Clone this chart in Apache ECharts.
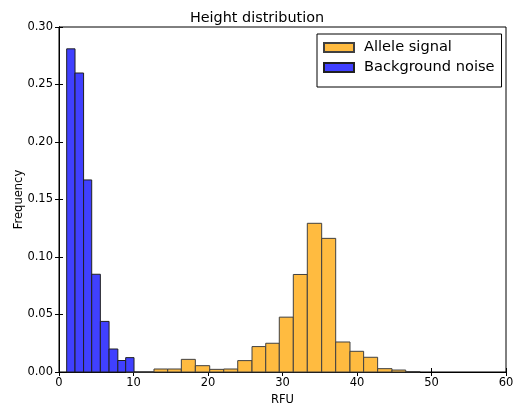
<!DOCTYPE html>
<html>
<head>
<meta charset="utf-8">
<script src="https://cdn.jsdelivr.net/npm/echarts@6/dist/echarts.min.js"></script>
<style>
html,body{margin:0;padding:0;background:#fff;}
#chart{width:514px;height:405px;}
</style>
</head>
<body>
<div id="chart"></div>
<script>
// Bin left edges and heights (histogram, normalized frequency)
var alleleEdges = [8.99, 10.87, 12.75, 14.59, 16.42, 18.30, 20.23, 22.11, 23.99, 25.91, 27.75, 29.57, 31.45, 33.33, 35.26, 37.14, 39.06, 40.89, 42.77, 44.70, 46.54, 48.46];
var alleleFreq = [0, 0, 0.0026, 0.0026, 0.0110, 0.0055, 0.0023, 0.0026, 0.0099, 0.0221, 0.0250, 0.0477, 0.0848, 0.1293, 0.1162, 0.0261, 0.0180, 0.0128, 0.0029, 0.0017, 0.0004];
var noiseEdges = [1.03, 2.15, 3.30, 4.39, 5.55, 6.72, 7.90, 8.95, 10.07];
var noiseFreq = [0.281, 0.260, 0.167, 0.085, 0.044, 0.020, 0.010, 0.0125];
var xTicks = [0, 10, 20, 30, 40, 50, 60];
var yTicks = ['0.00', '0.05', '0.10', '0.15', '0.20', '0.25', '0.30'];

function toBins(edges, freq) {
  var out = [];
  for (var i = 0; i < freq.length; i++) out.push([edges[i], edges[i + 1], freq[i]]);
  return out;
}
function renderBar(params, api) {
  var p0 = api.coord([api.value(0), api.value(2)]);
  var p1 = api.coord([api.value(1), 0]);
  return {
    type: 'rect',
    shape: { x: p0[0], y: p0[1], width: p1[0] - p0[0], height: p1[1] - p0[1] },
    style: api.style()
  };
}
var font = 'DejaVu Sans';
var chart = echarts.init(document.getElementById('chart'), null, { renderer: 'canvas' });
var tickStyle = { show: true, inside: true, length: 4, lineStyle: { color: '#000', width: 1 } };
chart.setOption({
  backgroundColor: '#fff',
  animation: false,
  title: {
    text: 'Height distribution', left: 'center', top: 6,
    textStyle: { fontFamily: font, fontSize: 14.4, fontWeight: 'normal', color: '#000' }
  },
  legend: {
    orient: 'vertical', left: 317, top: 34,
    icon: 'rect', itemWidth: 30, itemHeight: 9, itemGap: 3,
    padding: [5, 7, 11, 6],
    borderColor: '#000', borderWidth: 1, backgroundColor: '#fff',
    textStyle: { fontFamily: font, fontSize: 14.6, color: '#000', lineHeight: 17, padding: [0, 0, 0, 5] },
    data: ['Allele signal', 'Background noise']
  },
  grid: { left: 59, right: 8, top: 27, bottom: 33, show: true, borderColor: '#000', borderWidth: 1,
    outerBoundsMode: 'none', containLabel: false },
  xAxis: [{
    type: 'value', min: 0, max: 60, interval: 10,
    name: 'RFU', nameLocation: 'middle', nameGap: 22,
    nameTextStyle: { fontFamily: font, fontSize: 11.5, color: '#000' },
    axisLine: { show: true, lineStyle: { color: '#000' } },
    axisTick: tickStyle, splitLine: { show: false },
    axisLabel: { fontFamily: font, fontSize: 11.5, color: '#000', margin: 5,
      formatter: function (v) { return xTicks.indexOf(v) >= 0 ? String(v) : ''; } }
  }, {
    type: 'value', min: 0, max: 60, interval: 10, position: 'top',
    axisLine: { show: true, lineStyle: { color: '#000' } },
    axisTick: tickStyle, axisLabel: { show: false }, splitLine: { show: false }
  }],
  yAxis: [{
    type: 'value', min: 0, max: 0.3, interval: 0.05,
    name: 'Frequency', nameLocation: 'middle', nameGap: 34, nameMoveOverlap: false,
    nameTextStyle: { fontFamily: font, fontSize: 11.5, color: '#000' },
    axisLine: { show: true, lineStyle: { color: '#000' } },
    axisTick: tickStyle, splitLine: { show: false },
    axisLabel: { fontFamily: font, fontSize: 11.5, color: '#000', margin: 6,
      formatter: function (v) { return yTicks[Math.round(v / 0.05)]; } }
  }, {
    type: 'value', min: 0, max: 0.3, interval: 0.05, position: 'right',
    axisLine: { show: true, lineStyle: { color: '#000' } },
    axisTick: tickStyle, axisLabel: { show: false }, splitLine: { show: false }
  }],
  series: [{
    name: 'Allele signal', type: 'custom', renderItem: renderBar,
    xAxisIndex: 0, yAxisIndex: 0,
    encode: { x: [0, 1], y: 2 },
    itemStyle: { color: '#FFBB40', borderColor: '#404040', borderWidth: 1 },
    data: toBins(alleleEdges, alleleFreq)
  }, {
    name: 'Background noise', type: 'custom', renderItem: renderBar,
    xAxisIndex: 0, yAxisIndex: 0,
    encode: { x: [0, 1], y: 2 },
    itemStyle: { color: '#4040FF', borderColor: '#202020', borderWidth: 1 },
    data: toBins(noiseEdges, noiseFreq)
  }]
});
</script>
</body>
</html>
